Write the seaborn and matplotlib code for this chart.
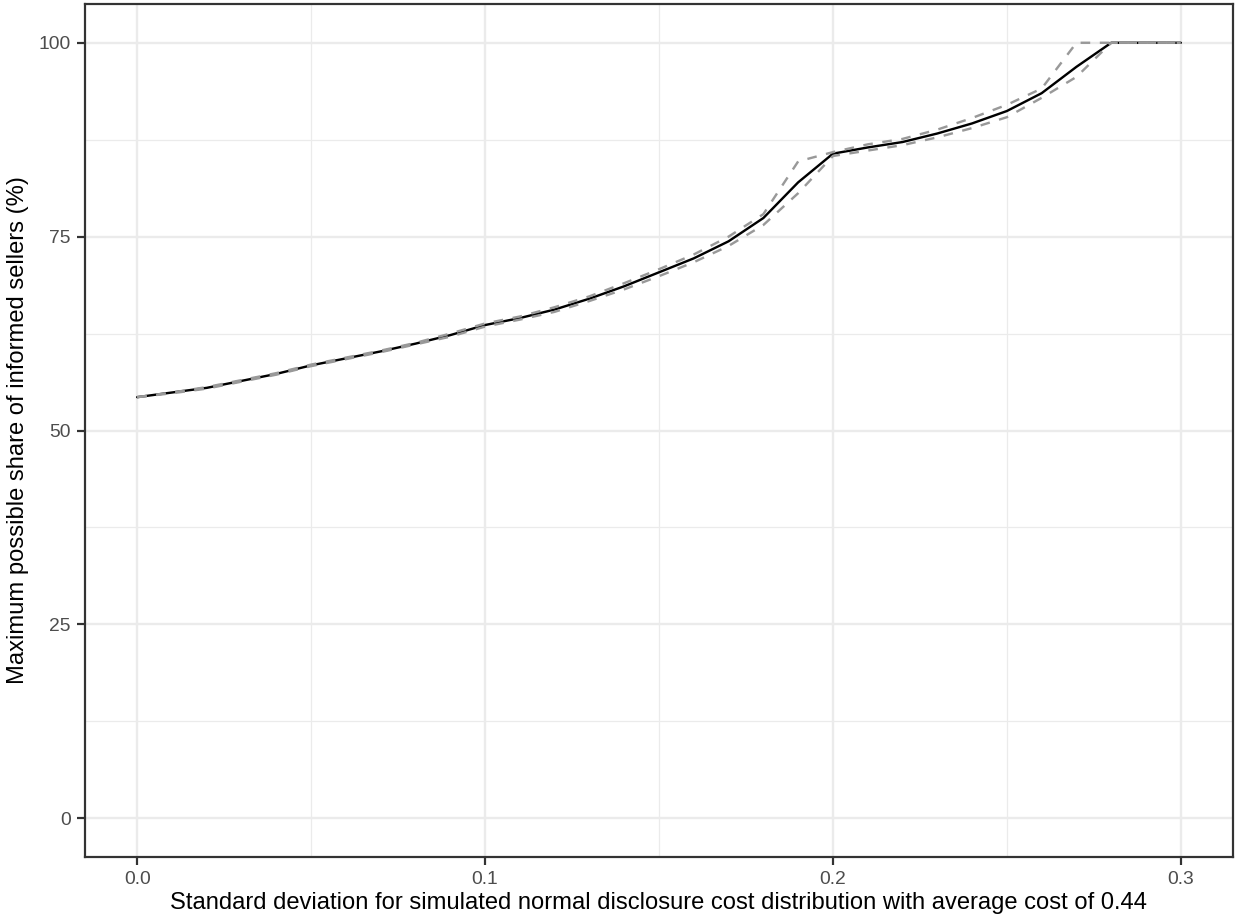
import numpy as np
import pandas as pd
import matplotlib
matplotlib.use("Agg")
import matplotlib.pyplot as plt
import seaborn as sns

sd = [0.00, 0.01, 0.02, 0.03, 0.04, 0.05, 0.06, 0.07, 0.08, 0.09, 0.10,
      0.11, 0.12, 0.13, 0.14, 0.15, 0.16, 0.17, 0.18, 0.19, 0.20,
      0.21, 0.22, 0.23, 0.24, 0.25, 0.26, 0.27, 0.28, 0.29, 0.30]
mean_share = [54.3, 54.9, 55.5, 56.4, 57.3, 58.4, 59.3, 60.2, 61.2, 62.3, 63.6,
              64.5, 65.6, 67.0, 68.6, 70.4, 72.2, 74.4, 77.4, 82.0, 85.7,
              86.5, 87.2, 88.3, 89.6, 91.2, 93.5, 96.9, 100, 100, 100]
upper_share = [54.3, 54.9, 55.6, 56.5, 57.4, 58.5, 59.4, 60.3, 61.3, 62.5, 63.8,
               64.7, 65.9, 67.3, 69.0, 70.8, 72.7, 75.0, 77.9, 84.7, 85.9,
               86.9, 87.6, 88.8, 90.3, 92.0, 94.1, 100, 100, 100, 100]
lower_share = [54.3, 54.8, 55.4, 56.3, 57.2, 58.3, 59.2, 60.1, 61.1, 62.1, 63.4,
               64.3, 65.3, 66.7, 68.2, 69.9, 71.7, 73.8, 76.5, 80.6, 85.4,
               86.1, 86.8, 87.8, 89.0, 90.4, 92.9, 95.6, 100, 100, 100]

x_ticks = [0.0, 0.1, 0.2, 0.3]
x_labels = ["0.0", "0.1", "0.2", "0.3"]
y_ticks = [0, 25, 50, 75, 100]
y_labels = ["0", "25", "50", "75", "100"]

df = pd.DataFrame({"sd": sd, "mean": mean_share,
                   "upper": upper_share, "lower": lower_share})

sns.set_style("white")
plt.rcParams["font.family"] = ["Liberation Sans", "DejaVu Sans"]

dpi = 144
fig = plt.figure(figsize=(1238 / dpi, 918 / dpi), dpi=dpi)
ax = fig.add_axes([85 / 1238, 1 - 857 / 918, (1233 - 85) / 1238, (857 - 4) / 918])

# grid like theme_bw
for v in [0.05, 0.15, 0.25]:
    ax.axvline(v, color="#EBEBEB", lw=0.6, zorder=0)
for v in [12.5, 37.5, 62.5, 87.5]:
    ax.axhline(v, color="#EBEBEB", lw=0.6, zorder=0)
for v in x_ticks:
    ax.axvline(v, color="#EBEBEB", lw=1.2, zorder=0)
for v in y_ticks:
    ax.axhline(v, color="#EBEBEB", lw=1.2, zorder=0)

sns.lineplot(data=df, x="sd", y="mean", ax=ax, color="black", lw=1.2, zorder=2)
sns.lineplot(data=df, x="sd", y="upper", ax=ax, color="#999999", lw=1.2,
             dashes=False, zorder=3)
sns.lineplot(data=df, x="sd", y="lower", ax=ax, color="#999999", lw=1.2,
             dashes=False, zorder=3)
for ln in ax.lines[-2:]:
    ln.set_dashes([4, 4])

ax.set_xlim(-0.015, 0.315)
ax.set_ylim(-5, 105)
ax.set_xticks(x_ticks)
ax.set_xticklabels(x_labels)
ax.set_yticks(y_ticks)
ax.set_yticklabels(y_labels)
ax.tick_params(axis="both", which="major", length=4, width=1.1, color="#333333",
               labelcolor="#4D4D4D", labelsize=9.6, pad=3, direction="out",
               bottom=True, left=True)

for s in ax.spines.values():
    s.set_color("#333333")
    s.set_linewidth(1.1)
    s.set_visible(True)

ax.set_xlabel("Standard deviation for simulated normal disclosure cost distribution with average cost of 0.44",
              fontsize=11.9, color="black", labelpad=2)
ax.set_ylabel("Maximum possible share of informed sellers (%)",
              fontsize=11.9, color="black", labelpad=5)

fig.savefig("out.png", dpi=dpi)
